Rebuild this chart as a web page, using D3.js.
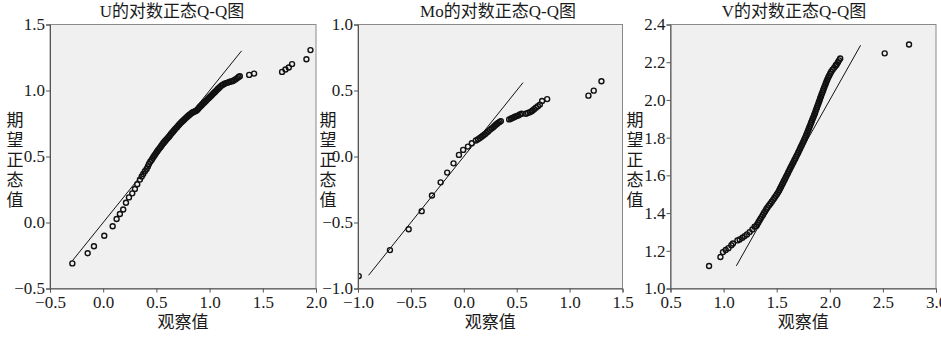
<!DOCTYPE html>
<html lang="zh">
<head>
<meta charset="UTF-8">
<title>对数正态Q-Q图</title>
<script src="https://d3js.org/d3.v7.min.js"></script>
<style>
  body { margin: 0; background: #fff; }
  svg { display: block; }
  text { font-family: "Liberation Serif", "Noto Sans CJK SC", serif; fill: #1a1a1a; }
</style>
</head>
<body>
<script>
const width = 941, height = 337;

const titles = ["U的对数正态Q-Q图", "Mo的对数正态Q-Q图", "V的对数正态Q-Q图"];
const xTitle = "观察值";
const yTitle = "期望正态值";

// U: observed (x) vs expected normal (y)
const uObs = [-0.29,-0.146,-0.087,0.01,0.089,0.126,0.157,0.188,0.214,0.242,0.273,0.298,0.320,0.345,0.362,0.376,0.392,0.408,0.420,0.430,0.442,0.455,
  0.465,0.475,0.485,0.495,0.505,0.515,0.525,0.535,0.545,0.555,0.565,0.575,0.585,0.595,0.605,0.615,0.625,0.635,0.645,0.655,0.665,0.675,0.685,0.695,
  0.705,0.715,0.725,0.735,0.745,0.755,0.765,0.775,0.785,0.795,0.805,0.815,0.825,0.835,0.845,0.855,0.865,0.875,0.885,0.895,0.905,0.915,0.925,0.935,
  0.945,0.955,0.965,0.975,0.985,0.995,1.005,1.015,1.025,1.035,1.045,1.055,1.065,1.075,1.085,1.095,1.110,1.125,1.140,1.155,1.170,1.185,1.200,1.215,
  1.230,1.245,1.260,1.272,1.284,1.372,1.418,1.681,1.713,1.744,1.775,1.910,1.948];
const uExp = [-0.31,-0.233,-0.18,-0.10,-0.028,0.026,0.064,0.098,0.150,0.190,0.221,0.254,0.290,0.325,0.348,0.368,0.388,0.406,0.425,0.444,0.460,0.474,
  0.488,0.500,0.512,0.524,0.536,0.547,0.558,0.569,0.580,0.592,0.602,0.612,0.622,0.630,0.639,0.648,0.658,0.668,0.678,0.688,0.697,0.706,0.715,0.724,
  0.734,0.743,0.751,0.759,0.767,0.775,0.783,0.791,0.798,0.805,0.812,0.819,0.825,0.831,0.836,0.840,0.843,0.846,0.855,0.864,0.873,0.881,0.889,0.897,
  0.905,0.913,0.921,0.929,0.937,0.945,0.953,0.961,0.969,0.977,0.985,0.993,1.001,1.009,1.017,1.025,1.036,1.044,1.051,1.056,1.060,1.064,1.068,1.071,
  1.078,1.086,1.094,1.102,1.108,1.118,1.128,1.141,1.159,1.174,1.200,1.237,1.306];
const uLine = [-0.29, 1.30];

// Mo
const moObs = [-0.993,-0.698,-0.521,-0.398,-0.301,-0.219,-0.157,-0.097,-0.046,-0.006,0.039,0.076,0.114,0.135,0.152,0.168,0.183,0.200,0.215,0.230,
  0.246,0.262,0.278,0.290,0.303,0.315,0.325,0.338,0.350,0.429,0.445,0.457,0.470,0.483,0.498,0.514,0.530,0.546,0.586,0.605,0.624,0.640,0.650,0.665,
  0.681,0.700,0.719,0.740,0.788,1.178,1.228,1.301];
const moExp = [-0.906,-0.709,-0.551,-0.414,-0.295,-0.196,-0.122,-0.052,0.012,0.050,0.075,0.100,0.121,0.131,0.141,0.150,0.159,0.169,0.179,0.190,
  0.202,0.212,0.222,0.231,0.240,0.248,0.255,0.262,0.268,0.281,0.286,0.291,0.296,0.301,0.306,0.311,0.318,0.324,0.324,0.330,0.336,0.342,0.349,0.358,
  0.370,0.381,0.393,0.420,0.435,0.461,0.499,0.570];
const moLine = [-0.9, 0.56];

// V
const vObs = [0.863,0.970,0.994,1.020,1.045,1.073,1.088,1.130,1.151,1.177,1.198,1.220,1.245,1.271,1.292,1.308,
  1.316,1.327,1.337,1.348,1.359,1.370,1.380,1.391,1.402,1.413,1.427,1.440,1.453,1.466,1.478,1.490,1.502,1.513,1.523,1.532,
  1.541,1.550,1.559,1.568,1.577,1.586,1.595,1.604,1.612,1.621,1.630,1.639,1.648,1.657,1.666,1.675,1.684,1.693,1.702,1.710,
  1.719,1.727,1.736,1.744,1.752,1.760,1.768,1.776,1.783,1.790,1.797,1.804,1.811,1.818,1.825,1.832,1.839,1.846,1.853,1.860,
  1.866,1.872,1.879,1.885,1.892,1.898,1.905,1.910,1.917,1.923,1.930,1.937,1.943,1.950,1.957,1.964,1.971,1.978,1.986,1.995,
  2.004,2.013,2.026,2.040,2.053,2.060,2.066,2.077,2.087,2.098,2.517,2.746];
const vExp = [1.119,1.167,1.193,1.204,1.214,1.229,1.239,1.255,1.260,1.269,1.278,1.287,1.299,1.313,1.328,1.331,
  1.34,1.35,1.36,1.37,1.38,1.39,1.40,1.41,1.42,1.43,1.44,1.45,1.46,1.47,1.48,1.49,1.50,1.51,1.52,1.53,
  1.54,1.55,1.56,1.57,1.58,1.59,1.60,1.61,1.62,1.63,1.64,1.65,1.66,1.67,1.68,1.69,1.70,1.71,1.72,1.73,
  1.74,1.75,1.76,1.77,1.78,1.79,1.80,1.81,1.82,1.83,1.84,1.85,1.86,1.87,1.88,1.89,1.90,1.91,1.92,1.93,
  1.94,1.95,1.96,1.97,1.98,1.99,2.00,2.01,2.02,2.03,2.04,2.05,2.06,2.07,2.08,2.09,2.10,2.11,2.12,2.13,
  2.14,2.15,2.16,2.17,2.18,2.185,2.19,2.20,2.21,2.22,2.247,2.294];
const vLine = [1.12, 2.29];

const uXTicks = [-0.5, 0, 0.5, 1, 1.5, 2];
const uYTicks = [-0.5, 0, 0.5, 1, 1.5];
const moXTicks = [-1, -0.5, 0, 0.5, 1, 1.5];
const moYTicks = [-1, -0.5, 0, 0.5, 1];
const vXTicks = [0.5, 1, 1.5, 2, 2.5, 3];
const vYTicks = [1, 1.2, 1.4, 1.6, 1.8, 2, 2.2, 2.4];

const plotTop = 24.5, plotBottom = 288.5;

const panels = [
  {title: titles[0], obs: uObs, exp: uExp, line: uLine, xDomain: [-0.5, 2], yDomain: [-0.5, 1.5],
   xTicks: uXTicks, yTicks: uYTicks, left: 50, right: 316, titleX: 172, ylabX: 15},
  {title: titles[1], obs: moObs, exp: moExp, line: moLine, xDomain: [-1, 1.5], yDomain: [-1, 1],
   xTicks: moXTicks, yTicks: moYTicks, left: 358, right: 622.5, titleX: 498, ylabX: 328},
  {title: titles[2], obs: vObs, exp: vExp, line: vLine, xDomain: [0.5, 3], yDomain: [1, 2.4],
   xTicks: vXTicks, yTicks: vYTicks, left: 670.5, right: 936, titleX: 794, ylabX: 635}
];

const svg = d3.select("body").append("svg")
    .attr("width", width).attr("height", height);

panels.forEach(drawPanel);

function drawPanel(p, i) {
    const x = d3.scaleLinear().domain(p.xDomain).range([p.left, p.right]);
    const y = d3.scaleLinear().domain(p.yDomain).range([plotBottom, plotTop]);
    const g = svg.append("g").attr("class", "panel");

    g.append("rect")
        .attr("x", p.left).attr("y", plotTop)
        .attr("width", p.right - p.left).attr("height", plotBottom - plotTop)
        .style("fill", "#f0f0f0")
        .style("stroke", "#8a8a8a")
        .style("stroke-width", 1);

    g.append("clipPath").attr("id", "clip" + i)
        .append("rect")
        .attr("x", p.left).attr("y", plotTop)
        .attr("width", p.right - p.left).attr("height", plotBottom - plotTop);

    const plot = g.append("g").attr("clip-path", `url(#clip${i})`);

    plot.append("line")
        .attr("x1", x(p.line[0])).attr("y1", y(p.line[0]))
        .attr("x2", x(p.line[1])).attr("y2", y(p.line[1]))
        .style("stroke", "#111")
        .style("stroke-width", 1);

    plot.selectAll("circle")
        .data(d3.zip(p.obs, p.exp))
        .enter()
        .append("circle")
        .attr("cx", d => x(d[0]))
        .attr("cy", d => y(d[1]))
        .attr("r", 2.5)
        .style("fill", "none")
        .style("stroke", "#111")
        .style("stroke-width", 1.4);

    const fmt = d3.format(".1f");
    const xAxis = g.append("g")
        .attr("transform", `translate(0,${plotBottom})`)
        .call(d3.axisBottom(x).tickValues(p.xTicks).tickSize(4).tickPadding(3).tickFormat(fmt));
    const yAxis = g.append("g")
        .attr("transform", `translate(${p.left},0)`)
        .call(d3.axisLeft(y).tickValues(p.yTicks).tickSize(4).tickPadding(1).tickFormat(fmt));

    [xAxis, yAxis].forEach(a => {
        a.attr("font-family", null).attr("font-size", null);
        a.select(".domain").style("stroke", "#555");
        a.selectAll(".tick line").style("stroke", "#555");
        a.selectAll(".tick text").style("font-size", "17px").style("fill", "#1a1a1a");
    });

    g.append("text")
        .attr("x", p.titleX).attr("y", 17)
        .attr("text-anchor", "middle")
        .style("font-size", "17px")
        .text(p.title);

    g.append("text")
        .attr("x", (p.left + p.right) / 2).attr("y", 328)
        .attr("text-anchor", "middle")
        .style("font-size", "17px")
        .text(xTitle);

    g.append("text")
        .attr("text-anchor", "middle")
        .style("font-size", "17px")
        .selectAll("tspan")
        .data(Array.from(yTitle))
        .enter()
        .append("tspan")
        .attr("x", p.ylabX)
        .attr("y", (d, k) => 126 + k * 20)
        .text(d => d);
}
</script>
</body>
</html>
